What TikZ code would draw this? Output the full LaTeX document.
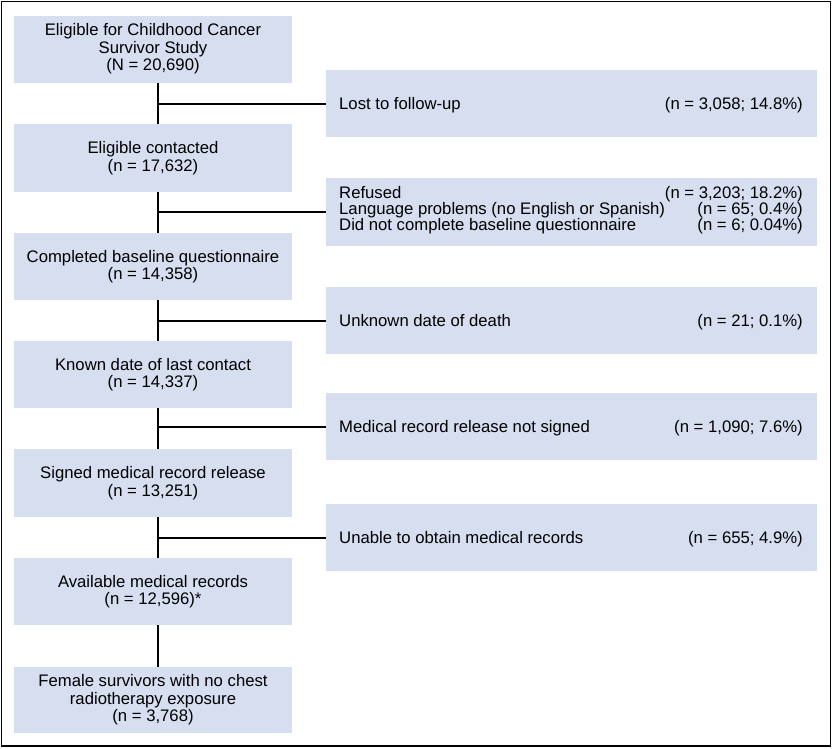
\documentclass[tikz,border=0pt]{standalone}
\usepackage{fontspec}
\setmainfont{Liberation Sans}
\definecolor{boxfill}{RGB}{214,222,240}
\begin{document}
\begin{tikzpicture}[x=1pt,y=-1pt,
  lbox/.style={fill=boxfill, draw=none, minimum width=278pt, minimum height=67pt,
    align=center, inner sep=0pt, font=\fontsize{16.7}{17.5}\selectfont},
  rbox/.style={fill=boxfill, draw=none, minimum width=491pt, minimum height=67pt, inner sep=0pt},
  rtl/.style={inner sep=0pt, anchor=base west, font=\fontsize{16.7}{16}\selectfont},
  rtr/.style={inner sep=0pt, anchor=base east, font=\fontsize{16.7}{16}\selectfont},
  link/.style={line width=2pt}]
\useasboundingbox (0,0) rectangle (834,748);
\draw[line width=1.5pt] (1.5,1.5) rectangle (830.5,746);

% left column
\node[lbox] (l1) at (153,49) {Eligible for Childhood Cancer\\Survivor Study\\(N = 20,690)};
\node[lbox, minimum height=68pt] (l2) at (153,158) {Eligible contacted\\(n = 17,632)};
\node[lbox] (l3) at (153,266.5) {Completed baseline questionnaire\\(n = 14,358)};
\node[lbox] (l4) at (153,374.5) {Known date of last contact\\(n = 14,337)};
\node[lbox, minimum height=68pt] (l5) at (153,483) {Signed medical record release\\(n = 13,251)};
\node[lbox] (l6) at (153,591.5) {Available medical records\\(n = 12,596)*};
\node[lbox, minimum height=66pt] (l7) at (153,700) {Female survivors with no chest\\radiotherapy exposure\\(n = 3,768)};

% right column
\node[rbox] (r1) at (571.5,103.5) {};
\node[rbox, minimum height=68pt] (r2) at (571.5,212) {};
\node[rbox] (r3) at (571.5,320.5) {};
\node[rbox] (r4) at (571.5,426.5) {};
\node[rbox] (r5) at (571.5,537.5) {};

\node[rtl] (r1a) at (339,109.5) {Lost to follow-up};
\node[rtr] (r1b) at (803,109.5) {(n = 3,058; 14.8\%)};

\node[rtl] (r2a) at (339,198) {Refused};
\node[rtr] (r2b) at (803,198) {(n = 3,203; 18.2\%)};
\node[rtl] (r2c) at (339,214) {Language problems (no English or Spanish)};
\node[rtr] (r2d) at (803,214) {(n = 65; 0.4\%)};
\node[rtl] (r2e) at (339,230) {Did not complete baseline questionnaire};
\node[rtr] (r2f) at (803,230) {(n = 6; 0.04\%)};

\node[rtl] (r3a) at (339,326.5) {Unknown date of death};
\node[rtr] (r3b) at (803,326.5) {(n = 21; 0.1\%)};

\node[rtl] (r4a) at (339,432.5) {Medical record release not signed};
\node[rtr] (r4b) at (803,432.5) {(n = 1,090; 7.6\%)};

\node[rtl] (r5a) at (339,543.5) {Unable to obtain medical records};
\node[rtr] (r5b) at (803,543.5) {(n = 655; 4.9\%)};

% spine
\coordinate (sp) at (158,0);
\draw[link] (l1.south -| sp) -- (l2.north -| sp);
\draw[link] (l2.south -| sp) -- (l3.north -| sp);
\draw[link] (l3.south -| sp) -- (l4.north -| sp);
\draw[link] (l4.south -| sp) -- (l5.north -| sp);
\draw[link] (l5.south -| sp) -- (l6.north -| sp);
\draw[link] (l6.south -| sp) -- (l7.north -| sp);

\draw[link] (sp |- r1.west) -- (r1.west);
\draw[link] (sp |- r2.west) -- (r2.west);
\draw[link] (sp |- r3.west) -- (r3.west);
\draw[link] (sp |- r4.west) -- (r4.west);
\draw[link] (sp |- r5.west) -- (r5.west);
\end{tikzpicture}
\end{document}
